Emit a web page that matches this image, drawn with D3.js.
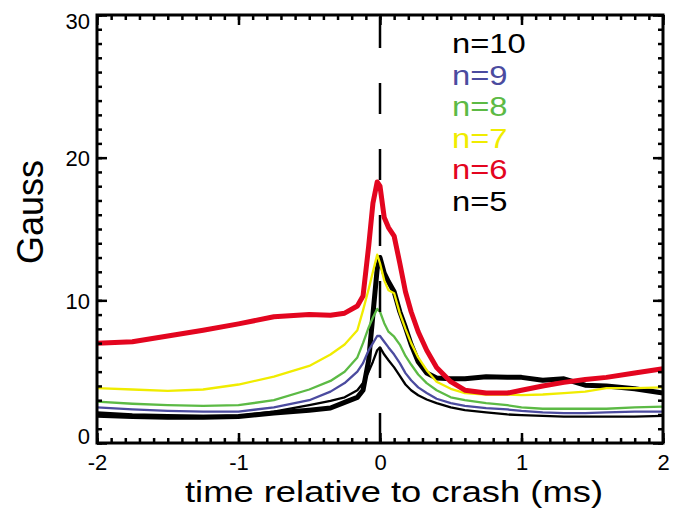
<!DOCTYPE html>
<html>
<head>
<meta charset="utf-8">
<script src="https://cdn.jsdelivr.net/npm/d3@7"></script>
<style>
  body { margin: 0; background: #fff; }
  svg { display: block; font-family: "Liberation Sans", Arial, Helvetica, sans-serif; }
</style>
</head>
<body>
<svg id="chart" width="684" height="518"></svg>
<script>
// time relative to crash (ms)
const time = [-2, -1.75, -1.5, -1.25, -1, -0.75, -0.5, -0.35, -0.25, -0.16, -0.12, -0.08, -0.05, -0.02, 0,
  0.03, 0.06, 0.1, 0.14, 0.18, 0.22, 0.27, 0.33, 0.4, 0.5, 0.6, 0.75, 0.9, 1.0, 1.15, 1.3, 1.45, 1.6, 1.8, 2.0];

// Gauss, one array per n
const n5 = [1.95, 1.85, 1.8, 1.8, 1.85, 2.1, 2.3, 2.45, 2.85, 3.2, 3.7, 5.8, 9.0, 12.2, 13.0,
  11.9, 11.3, 10.6, 9.2, 8.1, 6.9, 5.7, 4.9, 4.55, 4.5, 4.5, 4.65, 4.6, 4.6, 4.4, 4.5, 4.05, 4.0, 3.8, 3.5];
const n6 = [7.0, 7.1, 7.5, 7.9, 8.35, 8.85, 9.0, 8.95, 9.1, 9.6, 10.3, 13.8, 16.8, 18.3, 18.0,
  15.8, 15.1, 14.5, 12.6, 10.6, 9.2, 7.8, 6.5, 5.3, 4.3, 3.7, 3.5, 3.5, 3.7, 4.0, 4.25, 4.45, 4.6, 4.9, 5.2];
const n7 = [3.85, 3.75, 3.65, 3.75, 4.1, 4.65, 5.4, 6.2, 6.9, 7.9, 9.3, 10.8, 12.0, 13.2, 12.6,
  11.4, 10.7, 10.5, 9.1, 8.0, 7.0, 6.0, 5.1, 4.3, 3.8, 3.5, 3.4, 3.4, 3.35, 3.4, 3.5, 3.6, 3.85, 3.85, 3.9];
const n8 = [2.9, 2.75, 2.65, 2.6, 2.65, 3.0, 3.75, 4.35, 5.0, 6.0, 7.0, 8.1, 8.8, 9.4, 9.2,
  8.4, 7.8, 7.45, 6.9, 6.1, 5.5, 4.8, 4.2, 3.7, 3.2, 3.0, 2.8, 2.65, 2.5, 2.4, 2.4, 2.4, 2.4, 2.5, 2.55];
const n9 = [2.5, 2.35, 2.25, 2.2, 2.2, 2.5, 3.0, 3.6, 4.2, 5.0, 5.6, 6.5, 7.0, 7.5, 7.5,
  7.1, 6.7, 6.2, 5.6, 4.9, 4.4, 3.9, 3.5, 3.1, 2.8, 2.6, 2.45, 2.35, 2.25, 2.15, 2.1, 2.1, 2.15, 2.2, 2.2];
const n10 = [2.15, 2.0, 1.95, 1.9, 1.9, 2.2, 2.65, 2.95, 3.2, 3.7, 4.2, 5.0, 5.7, 6.5, 6.7,
  6.2, 5.8, 5.3, 4.7, 4.1, 3.7, 3.35, 3.05, 2.8, 2.5, 2.3, 2.15, 2.0, 1.95, 1.9, 1.85, 1.85, 1.85, 1.85, 1.9];

const legendLabels = ["n=10", "n=9", "n=8", "n=7", "n=6", "n=5"];
const xTicks = [-2, -1, 0, 1, 2];
const yTicks = [0, 10, 20, 30];

// drawing order: thick black first, red on top
const series = [
  { name: "n=5", values: n5, color: "#000000", width: 5 },
  { name: "n=10", values: n10, color: "#000000", width: 2.3 },
  { name: "n=9", values: n9, color: "#4b4b9f", width: 2.3 },
  { name: "n=8", values: n8, color: "#5cba45", width: 2.3 },
  { name: "n=7", values: n7, color: "#f0ec00", width: 2.3 },
  { name: "n=6", values: n6, color: "#e3051f", width: 5 }
];
const colorOf = { "n=10": "#000000", "n=9": "#4b4b9f", "n=8": "#5cba45", "n=7": "#f0ec00", "n=6": "#e3051f", "n=5": "#000000" };

const m = { left: 97, right: 663, top: 15, bottom: 443 };
const svg = d3.select("#chart");

const x = d3.scaleLinear().domain([-2, 2]).range([m.left, m.right]);
const y = d3.scaleLinear().domain([0, 30]).range([m.bottom, m.top]);

// data lines, clipped to the frame
svg.append("clipPath").attr("id", "clip")
  .append("rect").attr("x", m.left).attr("y", m.top).attr("width", m.right - m.left).attr("height", m.bottom - m.top);

const line = d3.line()
  .x((d, i) => x(time[i]))
  .y(d => y(d));

svg.append("g").attr("clip-path", "url(#clip)")
  .selectAll("path")
  .data(series)
  .join("path")
    .attr("d", d => line(d.values))
    .attr("fill", "none")
    .attr("stroke", d => d.color)
    .attr("stroke-width", d => d.width)
    .attr("stroke-linejoin", "round")
    .attr("stroke-linecap", "round");

// dashed line at crash time
svg.append("line")
  .attr("x1", x(0)).attr("x2", x(0))
  .attr("y1", m.top + 2).attr("y2", m.bottom)
  .attr("stroke", "#000")
  .attr("stroke-width", 2.5)
  .attr("stroke-dasharray", "31,35");

// axes: ticks point inward on all four sides
const xMinor = d3.range(-2, 2.001, 0.1).map(v => +v.toFixed(1));
const yMinor = d3.range(0, 31, 1);

function styleAxis(g) {
  g.select(".domain").remove();
  g.selectAll(".tick line").attr("stroke", "#000").attr("stroke-width", 2.5);
  g.selectAll("text").attr("fill", "#000").style("font-size", "22px");
}
function noLabels(g) {
  styleAxis(g);
  g.selectAll("text").remove();
}

svg.append("g").attr("transform", `translate(0,${m.bottom})`)
  .call(d3.axisBottom(x).tickValues(xMinor).tickSize(-5))
  .call(noLabels);
svg.append("g").attr("transform", `translate(0,${m.bottom})`)
  .call(d3.axisBottom(x).tickValues(xTicks).tickSize(-10).tickPadding(11.5).tickFormat(d => String(d)))
  .call(styleAxis);

svg.append("g").attr("transform", `translate(0,${m.top})`)
  .call(d3.axisTop(x).tickValues(xMinor).tickSize(-5))
  .call(noLabels);
svg.append("g").attr("transform", `translate(0,${m.top})`)
  .call(d3.axisTop(x).tickValues(xTicks).tickSize(-10))
  .call(noLabels);

svg.append("g").attr("transform", `translate(${m.left},0)`)
  .call(d3.axisLeft(y).tickValues(yMinor).tickSize(-5))
  .call(noLabels);
const yAx = svg.append("g").attr("transform", `translate(${m.left},0)`)
  .call(d3.axisLeft(y).tickValues(yTicks).tickSize(-10).tickPadding(7).tickFormat(d => String(d)))
  .call(styleAxis);
// keep the end labels inside the frame, as in the original
yAx.selectAll(".tick text").attr("dy", d => d === 30 ? "0.62em" : d === 0 ? "0" : "0.36em");

svg.append("g").attr("transform", `translate(${m.right},0)`)
  .call(d3.axisRight(y).tickValues(yMinor).tickSize(-5))
  .call(noLabels);
svg.append("g").attr("transform", `translate(${m.right},0)`)
  .call(d3.axisRight(y).tickValues(yTicks).tickSize(-10))
  .call(noLabels);

// frame
svg.append("rect")
  .attr("x", m.left).attr("y", m.top)
  .attr("width", m.right - m.left).attr("height", m.bottom - m.top)
  .attr("fill", "none").attr("stroke", "#000").attr("stroke-width", 3);

// titles (x title is wide and short in the original)
svg.append("text")
  .attr("x", 185).attr("y", 502)
  .attr("textLength", 418)
  .attr("lengthAdjust", "spacingAndGlyphs")
  .style("font-size", "29px")
  .text("time relative to crash (ms)");

svg.append("text")
  .attr("transform", "translate(43,212) rotate(-90)")
  .attr("text-anchor", "middle")
  .style("font-size", "36px")
  .text("Gauss");

// legend: tightly stacked, glyphs widened to the original width
const leg = svg.append("g")
  .selectAll("text")
  .data(legendLabels)
  .join("text")
    .attr("x", 452)
    .attr("y", (d, i) => 53 + i * 31.6)
    .attr("fill", d => colorOf[d])
    .style("font-size", "28px")
    .text(d => d);
leg.each(function() {
  const w = this.getComputedTextLength();
  d3.select(this).attr("textLength", w * 1.17).attr("lengthAdjust", "spacingAndGlyphs");
});
</script>
</body>
</html>
